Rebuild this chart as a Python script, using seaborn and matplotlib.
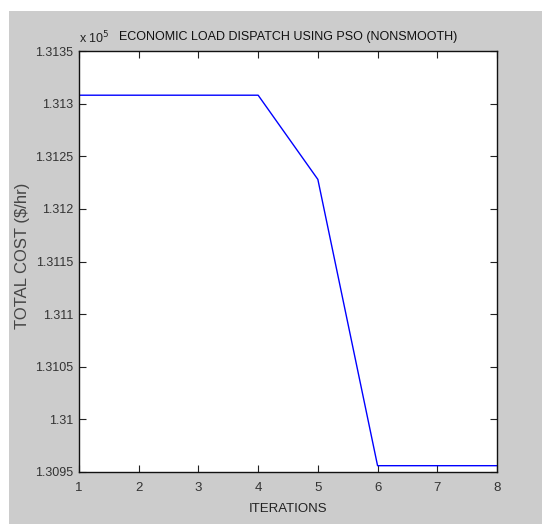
import matplotlib
matplotlib.use("Agg")
import matplotlib.pyplot as plt
import seaborn as sns
import pandas as pd
from matplotlib.patches import Rectangle
from matplotlib.ticker import FuncFormatter, FixedLocator

iterations = [1, 2, 3, 4, 5, 6, 7, 8]
total_cost = [131308, 131308, 131308, 131308, 131228, 130956, 130956, 130956]
x_ticks = [1, 2, 3, 4, 5, 6, 7, 8]
y_ticks = [130950, 131000, 131050, 131100, 131150, 131200, 131250, 131300, 131350]

df = pd.DataFrame({"ITERATIONS": iterations, "TOTAL COST": total_cost})

sns.set_style("white")
plt.rcParams['font.family'] = ['Liberation Sans', 'DejaVu Sans']

fig = plt.figure(figsize=(5.42, 5.24), dpi=100)
fig.patch.set_facecolor("white")
W, H = 542, 524
bg = Rectangle((9 / W, 0), 1 - 9 / W, 1 - 11 / H, transform=fig.transFigure,
               facecolor="#cccccc", edgecolor="none", zorder=-10)
fig.add_artist(bg)

ax = fig.add_axes([79 / W, 1 - 472 / H, (497 - 79) / W, (472 - 51) / H])
ax.set_zorder(5)
ax.set_facecolor("white")
sns.lineplot(data=df, x="ITERATIONS", y="TOTAL COST", ax=ax, color="#0000ff", linewidth=1.0)

ax.set_xlim(1, 8)
ax.set_ylim(130950, 131350)
ax.xaxis.set_major_locator(FixedLocator(x_ticks))
ax.yaxis.set_major_locator(FixedLocator(y_ticks))
ax.yaxis.set_major_formatter(FuncFormatter(lambda v, p: f"{round(v / 1e5, 4):g}"))
ax.xaxis.set_major_formatter(FuncFormatter(lambda v, p: f"{int(round(v))}"))

ax.tick_params(direction="in", length=5, width=0.8, colors="#222222",
               top=True, right=True, bottom=True, left=True)
ax.tick_params(axis="y", labelsize=9, pad=4)
ax.tick_params(axis="x", labelsize=9.5, pad=7)
ax.tick_params(axis="both", labelcolor="#333333")
for s in ax.spines.values():
    s.set_color("#111111")
    s.set_linewidth(1.0)
    s.set_visible(True)

ax.set_xlabel("ITERATIONS", fontsize=9.5, color="#222222", labelpad=7)
ax.set_ylabel("TOTAL COST ($/hr)", fontsize=12, color="#444444")
ax.yaxis.set_label_coords(-0.118, 0.513)
ax.set_title("ECONOMIC LOAD DISPATCH USING PSO (NONSMOOTH)", fontsize=9, color="#111111", pad=8)
ax.text(0.0, 1.012, r"x 10$^5$", transform=ax.transAxes, fontsize=9, color="#222222",
        ha="left", va="bottom")

fig.savefig("out.png", dpi=100, facecolor=fig.get_facecolor())
